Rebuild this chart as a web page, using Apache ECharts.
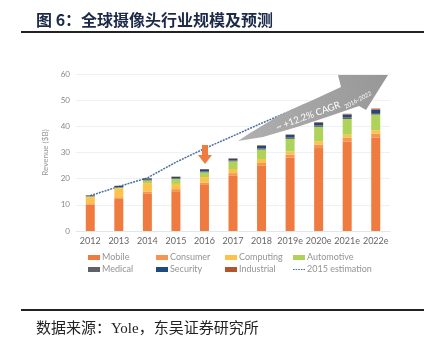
<!DOCTYPE html>
<html>
<head>
<meta charset="utf-8">
<script src="https://cdn.jsdelivr.net/npm/echarts@6/dist/echarts.min.js"></script>
<style>
html,body{margin:0;padding:0;background:#fff;}
#c{width:435px;height:347px;}
</style>
</head>
<body>
<div id="c"></div>
<script>
var categories = ['2012','2013','2014','2015','2016','2017','2018','2019e','2020e','2021e','2022e'];
var mobile     = [10.1, 12.3, 14.4, 15.2, 17.6, 21.1, 24.9, 28.0, 31.7, 34.2, 35.7];
var consumer   = [0.5, 0.6, 0.7, 0.8, 0.9, 1.0, 1.1, 1.2, 1.3, 1.4, 1.5];
var computing  = [2.3, 3.4, 3.2, 2.0, 2.1, 1.6, 1.5, 1.2, 1.3, 1.2, 1.3];
var automotive = [0.3, 0.3, 1.0, 1.9, 1.8, 2.9, 3.6, 4.8, 5.5, 6.0, 6.0];
var medical    = [0.2, 0.2, 0.3, 0.3, 0.4, 0.4, 0.5, 0.5, 0.5, 0.6, 0.6];
var security   = [0.2, 0.4, 0.5, 0.5, 0.8, 0.6, 1.0, 1.0, 1.0, 1.1, 1.3];
var industrial = [0.1, 0.1, 0.1, 0.1, 0.1, 0.2, 0.2, 0.2, 0.3, 0.3, 0.4];
var estimation2015 = [13.5, 17.0, 20.3, 26.3, 31.5, 36.3, 41.2, 45.8, 50.5, '-', '-'];
var yTicks = [0, 60, 10];

var chart = echarts.init(document.getElementById('c'), null, {renderer:'canvas'});
var font = 'Lato, "Open Sans", sans-serif';

function barSeries(name, data, color) {
  return {name:name, type:'bar', stack:'total', data:data, barWidth:9,
          itemStyle:{color:color}, emphasis:{disabled:true}};
}
var legendText = {fontSize:9, color:'#949494', fontFamily:font, padding:[0,0,0,-3], lineHeight:11};
function legendCol(left, top, names, extra) {
  var o = {orient:'vertical', left:left, top:top, padding:0, itemWidth:12, itemHeight:5, itemGap:1,
          data:names, textStyle:legendText, selectedMode:false, icon:'rect'};
  if (extra) for (var k in extra) o[k] = extra[k];
  return o;
}
var dashIcon = 'path://M0 0H1.6V1H0Z M2.6 0H4.2V1H2.6Z M5.2 0H6.8V1H5.2Z M7.8 0H9.4V1H7.8Z M10.4 0H12V1H10.4Z';

chart.setOption({
  animation:false,
  backgroundColor:'#ffffff',
  title:[
    {text:'图 6：全球摄像头行业规模及预测', left:31, top:7,
     textStyle:{fontSize:16, fontWeight:'bold', color:'#1c2a48', fontFamily:'"Noto Sans CJK SC", sans-serif'}},
    {text:'数据来源：Yole，东吴证券研究所', left:31, top:317,
     textStyle:{fontSize:15, fontWeight:'normal', color:'#222', fontFamily:'"Liberation Serif", "Noto Sans CJK SC", serif'}}
  ],
  grid:{left:76, right:45, top:74, bottom:116},
  legend:[
    legendCol(88, 252, ['Mobile','Medical']),
    legendCol(156, 252, ['Consumer','Security']),
    legendCol(225, 252, ['Computing','Industrial']),
    legendCol(293, 252, ['Automotive']),
    legendCol(293, 264, ['2015 estimation'], {icon:dashIcon, itemHeight:1.5, itemStyle:{color:'#4d6f9f'}})
  ],
  xAxis:{type:'category', data:categories,
    axisLine:{lineStyle:{color:'#dfe8f0'}}, axisTick:{show:false},
    axisLabel:{fontSize:9, color:'#666', fontFamily:font, margin:6, interval:0}},
  yAxis:{type:'value', min:yTicks[0], max:yTicks[1], interval:yTicks[2],
    name:'Revenue ($B)', nameLocation:'middle', nameGap:24,
    nameTextStyle:{fontSize:8, color:'#999', fontFamily:font},
    axisLine:{show:false}, axisTick:{show:false},
    axisLabel:{fontSize:8, color:'#888', fontFamily:font, margin:6},
    splitLine:{lineStyle:{color:'#edf1f5'}}},
  series:[
    barSeries('Mobile', mobile, '#f07b40'),
    barSeries('Consumer', consumer, '#f4964f'),
    barSeries('Computing', computing, '#fcc24b'),
    barSeries('Automotive', automotive, '#afd259'),
    barSeries('Medical', medical, '#5e6266'),
    barSeries('Security', security, '#1e4b7b'),
    barSeries('Industrial', industrial, '#b3552c'),
    {name:'2015 estimation', type:'line', data:estimation2015, symbol:'none', z:1,
     lineStyle:{color:'#4d6f9f', width:1.5, type:[2,1]}, itemStyle:{color:'#4d6f9f'}}
  ],
  graphic:[
    {type:'line', shape:{x1:21, y1:32, x2:424, y2:32}, style:{stroke:'#222', lineWidth:2}},
    {type:'line', shape:{x1:21, y1:310, x2:424, y2:310}, style:{stroke:'#222', lineWidth:2}},
    {type:'polygon', z:10, shape:{points:[[238,141],[250,133],[265,124],[280,115],[297,107],[313,100],[328,93],[341,87],[338,75],[388,75],[366,110],[359,106],[330,116],[297,127],[263,137]]},
     style:{fill:new echarts.graphic.LinearGradient(0,1,1,0,[{offset:0,color:'#b0b0b0'},{offset:1,color:'#979797'}])}},
    {type:'text', z:11, x:308, y:116, rotation:20*Math.PI/180,
     style:{text:'~ +12.2% CAGR', fill:'#fff', fontSize:9.5, fontFamily:font, align:'center', verticalAlign:'middle'}},
    {type:'text', z:11, x:358, y:100, rotation:28*Math.PI/180,
     style:{text:'2016-2022', fill:'#fff', fontSize:6, fontFamily:font, align:'center', verticalAlign:'middle'}},
    {type:'polygon', z:10, shape:{points:[[202,145],[208,145],[208,155],[212,155],[205,164],[198,155],[202,155]]},
     style:{fill:'#f07b40'}}
  ]
});
</script>
</body>
</html>
